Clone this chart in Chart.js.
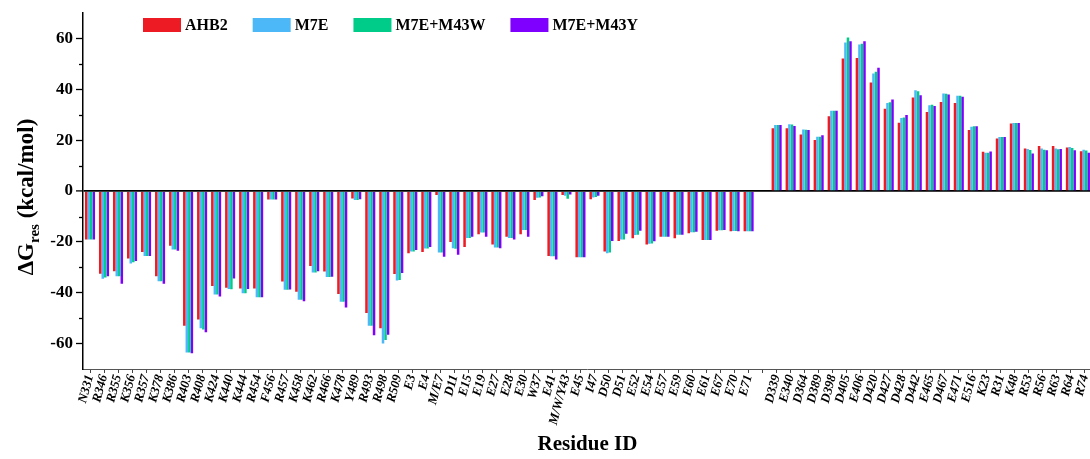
<!DOCTYPE html>
<html>
<head>
<meta charset="utf-8">
<script src="https://cdn.jsdelivr.net/npm/chart.js@4"></script>
<style>
  html, body { margin: 0; padding: 0; background: #fff; overflow: hidden; }
  #wrap { width: 1100px; height: 459px; position: relative; }
</style>
</head>
<body>
<div id="wrap"><canvas id="dgChart"></canvas></div>
<script>
// residues (blank slot separates the two halves)
const residues = [
  "N331","R346","R355","K356","R357","K378","K386","R403","R408","K424","K440","K444",
  "R454","F456","R457","K458","K462","R466","K478","Y489","R493","R498","R509",
  "E3","E4","M/E7","D11","E15","E19","E27","E28","E30","W37","E41","M/W/Y43","E45",
  "I47","D50","D51","E52","E54","E57","E59","E60","E61","E67","E70","E71",
  "",
  "D339","E340","D364","D389","D398","D405","E406","D420","D427","D428","D442","E465",
  "D467","E471","E516","K23","R31","K48","R53","R56","R63","R64","R74"
];

const ahb2 = [
  -19, -32.5, -31.5, -26.5, -24, -33.5, -21.5, -53, -50.5, -37.3, -38, -38.3,
  -38.3, -3.3, -35.6, -39.6, -29.5, -31.6, -40.5, -2.9, -48, -54, -32.6,
  -24.5, -24, -1.5, -20, -22, -17, -21, -18, -17, -3.5, -25.5, -1.5, -26,
  -3.2, -23.8, -19.6, -18.6, -21, -18, -18.6, -16.6, -19.2, -15.6, -15.8, -15.8,
  null,
  24.7, 24.7, 22.3, 20.1, 29.5, 52.2, 52.4, 42.7, 32.4, 26.9, 36.8, 31.1,
  35.1, 34.7, 24, 15.5, 20.7, 26.6, 16.8, 17.7, 17.7, 17.2, 15.7
];

const m7e = [
  -19, -34.5, -33.5, -28.5, -25.5, -35.5, -23, -63.5, -54, -40.7, -38.5, -40.2,
  -41.8, -3.3, -38.8, -42.8, -32, -33.8, -43.5, -3.5, -53, -60, -35.2,
  -23.8, -22.6, -24.2, -22.5, -18.5, -16.3, -22.2, -18.5, -15.3, -2.6, -25.6, -1.8, -26,
  -2.5, -24.5, -19, -17.3, -20.7, -18, -17.2, -16.2, -19.2, -15.4, -15.7, -15.8,
  null,
  26, 26.3, 24.2, 21.4, 31.6, 58.5, 57.7, 46.3, 34.7, 28.8, 39.7, 33.8,
  38.4, 37.5, 25.3, 15.1, 21.3, 26.8, 16.6, 16.8, 16.8, 17.4, 16.3
];

const m7eM43W = [
  -19, -34, -33.5, -28, -25.5, -35.5, -23, -63.5, -54.5, -40.7, -38.6, -40.2,
  -41.8, -3.3, -38.8, -42.8, -32, -33.8, -43.5, -3.5, -53, -58.6, -35,
  -23.8, -22.6, -24.2, -22.7, -18.5, -16.3, -22.2, -18.5, -15.3, -2.5, -25.6, -3, -26,
  -2.3, -24.2, -19, -17.2, -20.6, -18, -17.2, -16.2, -19.2, -15.4, -15.7, -15.8,
  null,
  26, 26.2, 24.1, 21.4, 31.6, 60.4, 58, 47, 35, 29, 39.3, 34,
  38.3, 37.5, 25.5, 15.1, 21.3, 26.8, 16.2, 16.3, 16.5, 17, 16
];

const m7eM43Y = [
  -19, -33.5, -36.5, -27.5, -25.5, -36.5, -23.5, -63.8, -55.5, -41.5, -34.4, -38.5,
  -41.8, -3.3, -38.7, -43.3, -31.5, -33.7, -45.8, -3.2, -56.7, -56.5, -32.2,
  -23.2, -22, -25.8, -25, -18, -18, -22.5, -19, -18, -2, -26.9, -1.3, -26,
  -1.8, -19.6, -16.8, -15.6, -19.7, -18, -17.2, -16, -19.2, -15.3, -15.8, -15.8,
  null,
  26, 25.6, 24, 22, 31.6, 59, 59, 48.5, 36, 29.9, 37.7, 33.5,
  38, 37.1, 25.5, 15.6, 21.3, 26.8, 14.8, 16.1, 16.6, 16.1, 15.1
];

const seriesNames = ["AHB2", "M7E", "M7E+M43W", "M7E+M43Y"];
const seriesColors = ["#ED1C24", "#4CB8F7", "#00CC8A", "#8000FF"];
const yMajorTicks = [-60, -40, -20, 0, 20, 40, 60];
const yMinorTicks = [-50, -30, -10, 10, 30, 50];

const SERIF = "'Liberation Serif', 'Times New Roman', serif";

// legend + y title + minor ticks
const extras = {
  id: "extras",
  afterDraw(chart) {
    const ctx = chart.ctx;
    const y = chart.scales.y;
    const left = chart.chartArea.left;

    ctx.save();
    ctx.strokeStyle = "#000";
    ctx.lineWidth = 1.3;
    yMinorTicks.forEach(v => {
      const py = Math.round(y.getPixelForValue(v)) + 0.5;
      ctx.beginPath();
      ctx.moveTo(left - 4, py);
      ctx.lineTo(left, py);
      ctx.stroke();
    });

    // legend
    ctx.font = "bold 16px " + SERIF;
    ctx.textBaseline = "middle";
    let lx = 143;
    chart.data.datasets.forEach(ds => {
      ctx.fillStyle = ds.backgroundColor;
      ctx.fillRect(lx, 18, 38, 14);
      ctx.fillStyle = "#000";
      ctx.fillText(ds.label, lx + 42, 26);
      lx += 42 + ctx.measureText(ds.label).width + 25;
    });

    // y axis title with subscript
    ctx.translate(25, 197);
    ctx.rotate(-Math.PI / 2);
    const big = "bold 23px " + SERIF;
    const small = "bold 15px " + SERIF;
    ctx.font = big;
    const w1 = ctx.measureText("\u0394G").width;
    const w3 = ctx.measureText(" (kcal/mol)").width;
    ctx.font = small;
    const w2 = ctx.measureText("res").width;
    let tx = -(w1 + w2 + w3) / 2;
    ctx.textBaseline = "alphabetic";
    ctx.fillStyle = "#000";
    ctx.font = big;
    ctx.fillText("\u0394G", tx, 8);
    tx += w1;
    ctx.font = small;
    ctx.fillText("res", tx, 14);
    tx += w2;
    ctx.font = big;
    ctx.fillText(" (kcal/mol)", tx, 8);
    ctx.restore();
  }
};

new Chart(document.getElementById("dgChart"), {
  type: "bar",
  data: {
    labels: residues,
    datasets: [ahb2, m7e, m7eM43W, m7eM43Y].map((d, i) => ({
      label: seriesNames[i],
      data: d,
      backgroundColor: seriesColors[i],
      borderWidth: 0,
      categoryPercentage: 0.72,
      barPercentage: 1.0
    }))
  },
  options: {
    responsive: true,
    maintainAspectRatio: false,
    animation: false,
    layout: { padding: { top: 13, right: 2, left: 0, bottom: 0 } },
    plugins: {
      legend: { display: false },
      tooltip: { enabled: false }
    },
    scales: {
      x: {
        type: "category",
        offset: true,
        afterFit: s => { s.height = 90; },
        grid: { offset: false, drawOnChartArea: false, tickLength: 4, color: "#444", lineWidth: 1 },
        border: { color: "#555", width: 1 },
        ticks: {
          autoSkip: false,
          maxRotation: 75,
          minRotation: 75,
          padding: 0,
          color: "#000",
          font: { family: SERIF, size: 13, weight: "bold", style: "italic" }
        },
        title: {
          display: true,
          text: "Residue ID",
          color: "#000",
          padding: { top: 0, bottom: 2 },
          font: { family: SERIF, size: 21, weight: "bold" }
        }
      },
      y: {
        min: -70,
        max: 70,
        afterFit: s => { s.width = 83; },
        afterBuildTicks: s => { s.ticks = yMajorTicks.map(v => ({ value: v })); },
        grid: {
          drawOnChartArea: true,
          color: c => (c.tick && c.tick.value === 0 ? "#000" : "rgba(0,0,0,0)"),
          lineWidth: c => (c.tick && c.tick.value === 0 ? 1.8 : 1),
          tickColor: "#000",
          tickWidth: 1.3,
          tickLength: 7
        },
        border: { color: "#000", width: 1.5 },
        ticks: {
          padding: 3,
          color: "#000",
          font: { family: SERIF, size: 17, weight: "bold" }
        }
      }
    }
  },
  plugins: [extras]
});
</script>
</body>
</html>
